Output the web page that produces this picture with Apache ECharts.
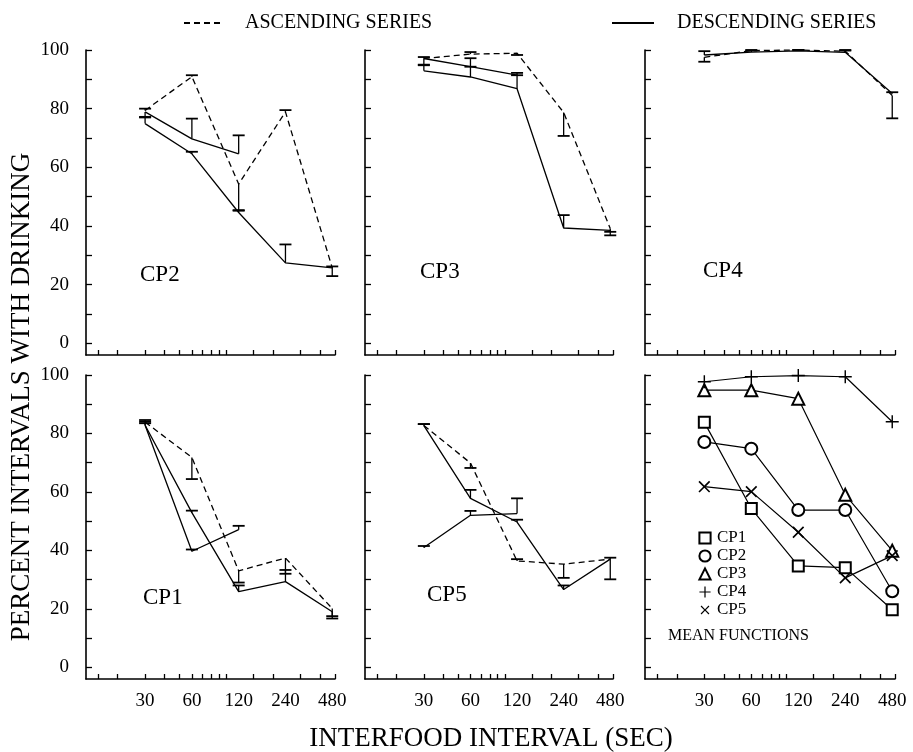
<!DOCTYPE html>
<html>
<head>
<meta charset="utf-8">
<script src="https://cdn.jsdelivr.net/npm/echarts@6/dist/echarts.min.js"></script>
<style>
  html, body { margin: 0; background: #fff; }
  #chart { width: 913px; height: 752px; }
</style>
</head>
<body>
<div id="chart"></div>
<script>
// interfood intervals (sec)
const secs = [30, 60, 120, 240, 480]
const secsShort = [30, 60, 120]
const tickSecs = [15, 20, 30, 40, 50, 60, 70, 80, 90, 100, 150, 200, 300, 400, 500]
const labelSecs = [30, 60, 120, 240, 480]
const yTicks = [0, 10, 20, 30, 40, 50, 60, 70, 80, 90, 100]
const yLabels = [0, 20, 40, 60, 80, 100]

// CP2
const cp2Asc = [79.4, 90.9, 54.3, 78.9, 25.7]
const cp2AscErr = [80.0, 91.4, 45.2, 79.5, 22.9]
const cp2Desc = [74.9, 64.6, 44.6, 27.4, 25.7]
const cp2DescErr = [77.0, 65.3, 45.4, 33.7, 26.2]
const cp2Rep = [78.9, 69.7, 64.6]
const cp2RepErr = [77.2, 76.6, 70.9]
// CP3
const cp3Asc = [97.1, 98.6, 98.9, 78.7, 39.1]
const cp3AscErr = [97.6, 99.3, 98.3, 70.7, 36.8]
const cp3Desc = [92.9, 90.8, 86.8, 39.3, 38.5]
const cp3DescErr = [95.0, 94.3, 91.4, 43.7, 38.0]
const cp3Rep = [97.1, 94.3, 91.4]
const cp3RepErr = [94.8, 97.2, 92.2]
// CP4
const cp4Asc = [97.5, 99.8, 100, 99.6, 84.5]
const cp4AscErr = [96.0, 100, 100, 100, 76.7]
const cp4Desc = [98.3, 99.3, 99.7, 99.2, 85.2]
const cp4DescErr = [99.6, 99.8, 100, 99.8, 85.6]
// CP1
const cp1Asc = [83.9, 71.8, 33.0, 37.4, 20.1]
const cp1AscErr = [84.6, 64.4, 29.0, 32.0, 16.7]
const cp1Desc = [82.8, 52.9, 25.9, 29.3, 19.0]
const cp1DescErr = [84.0, 53.6, 28.0, 33.3, 17.5]
const cp1Rep = [82.8, 39.7, 47.1]
const cp1RepErr = [83.5, 40.3, 48.4]
// CP5
const cp5Asc = [82.7, 69.9, 36.4, 35.3, 37.0]
const cp5AscErr = [83.2, 68.2, 37.0, 30.6, 30.1]
const cp5Desc = [82.7, 57.8, 49.7, 26.6, 37.0]
const cp5DescErr = [83.2, 60.7, 50.5, 28.0, 37.5]
const cp5Rep = [41.0, 52.0, 52.6]
const cp5RepErr = [41.5, 53.5, 57.8]
// mean functions
const mean1 = [83.8, 54.3, 34.7, 34.1, 19.7]
const mean2 = [77.1, 74.8, 53.8, 53.8, 26.0]
const mean3 = [94.8, 94.8, 91.9, 59.0, 39.9]
const mean4 = [97.7, 99.4, 99.8, 99.4, 84.0]
const mean5 = [61.8, 60.1, 46.2, 30.6, 38.2]

const SERIF = "'Liberation Serif', 'DejaVu Serif', serif"
const ASC = 'ASCENDING SERIES'
const DESC = 'DESCENDING SERIES'

let chart = echarts.init(document.getElementById('chart'))

// panel boxes: top row CP2 CP3 CP4, bottom row CP1 CP5 mean
const colLeft = [86, 365, 645]
const colWidth = [249, 248, 250]
const rowTop = [50, 375]
const rowHeight = [305, 304]

let grids = [], xAxes = [], yAxes = []
for (let r = 0; r < 2; r++) {
  for (let c = 0; c < 3; c++) {
    grids.push({left: colLeft[c], top: rowTop[r], width: colWidth[c], height: rowHeight[r]})
    let gi = grids.length - 1
    xAxes.push({
      gridIndex: gi, type: 'log', logBase: 10, min: 12.5, max: 500,
      axisLine: {onZero: false, lineStyle: {color: '#000', width: 1.6}},
      axisTick: {inside: true, length: 5, customValues: tickSecs, lineStyle: {color: '#000', width: 1.3}},
      axisLabel: {show: r == 1, customValues: labelSecs, margin: 13, color: '#000', fontFamily: SERIF, fontSize: 19},
      splitLine: {show: false}, minorTick: {show: false}
    })
    yAxes.push({
      gridIndex: gi, type: 'value', min: -4, max: 100,
      axisLine: {show: true, onZero: false, lineStyle: {color: '#000', width: 1.6}},
      axisTick: {inside: true, length: 6, customValues: yTicks, lineStyle: {color: '#000', width: 1.3}},
      axisLabel: {show: c == 0, customValues: yLabels, margin: 17, color: '#000', fontFamily: SERIF, fontSize: 19},
      splitLine: {show: false}
    })
  }
}

function pairs(xs, ys) {
  return ys.map((y, i) => [xs[i], y])
}

function lineSeries(name, gi, xs, ys, dashed) {
  return {
    name: name, type: 'line', xAxisIndex: gi, yAxisIndex: gi,
    data: pairs(xs, ys), symbol: 'none', clip: false, silent: true,
    lineStyle: {color: '#000', width: 1.3, type: dashed ? [6, 4] : 'solid'},
    itemStyle: {color: '#000'}
  }
}

// half error bar: from the mean to the end value, capped
function renderErr(params, api) {
  let p0 = api.coord([api.value(0), api.value(1)])
  let p1 = api.coord([api.value(0), api.value(2)])
  let w = 6
  return {
    type: 'group',
    children: [
      {type: 'line', shape: {x1: p0[0], y1: p0[1], x2: p1[0], y2: p1[1]}, style: {stroke: '#000', lineWidth: 1.3}},
      {type: 'line', shape: {x1: p1[0] - w, y1: p1[1], x2: p1[0] + w, y2: p1[1]}, style: {stroke: '#000', lineWidth: 1.8}}
    ]
  }
}

function errSeries(gi, xs, ys, es) {
  return {
    type: 'custom', xAxisIndex: gi, yAxisIndex: gi, silent: true, clip: false,
    renderItem: renderErr, encode: {x: 0, y: [1, 2]},
    data: ys.map((y, i) => [xs[i], y, es[i]])
  }
}

let panels = [
  {gi: 0, asc: cp2Asc, ascErr: cp2AscErr, desc: cp2Desc, descErr: cp2DescErr, rep: cp2Rep, repErr: cp2RepErr},
  {gi: 1, asc: cp3Asc, ascErr: cp3AscErr, desc: cp3Desc, descErr: cp3DescErr, rep: cp3Rep, repErr: cp3RepErr},
  {gi: 2, asc: cp4Asc, ascErr: cp4AscErr, desc: cp4Desc, descErr: cp4DescErr},
  {gi: 3, asc: cp1Asc, ascErr: cp1AscErr, desc: cp1Desc, descErr: cp1DescErr, rep: cp1Rep, repErr: cp1RepErr},
  {gi: 4, asc: cp5Asc, ascErr: cp5AscErr, desc: cp5Desc, descErr: cp5DescErr, rep: cp5Rep, repErr: cp5RepErr}
]

let series = []
panels.forEach(p => {
  series.push(lineSeries(ASC, p.gi, secs, p.asc, true))
  series.push(lineSeries(DESC, p.gi, secs, p.desc, false))
  series.push(errSeries(p.gi, secs, p.asc, p.ascErr))
  series.push(errSeries(p.gi, secs, p.desc, p.descErr))
  if (p.rep) {
    series.push(lineSeries(DESC, p.gi, secsShort, p.rep, false))
    series.push(errSeries(p.gi, secsShort, p.rep, p.repErr))
  }
})

const plusPath = 'path://M4.45,0H5.55V4.45H10V5.55H5.55V10H4.45V5.55H0V4.45H4.45Z'
let means = [
  {name: 'CP1', data: mean1, symbol: 'emptyRect', size: 11, rotate: 0, border: 1.3},
  {name: 'CP2', data: mean2, symbol: 'emptyCircle', size: 12, rotate: 0, border: 1.3},
  {name: 'CP3', data: mean3, symbol: 'emptyTriangle', size: 12, rotate: 0, border: 1.3},
  {name: 'CP4', data: mean4, symbol: plusPath, size: 13, rotate: 0, border: 0},
  {name: 'CP5', data: mean5, symbol: plusPath, size: 15, rotate: 45, border: 0}
]
means.forEach(m => {
  series.push({
    name: m.name, type: 'line', xAxisIndex: 5, yAxisIndex: 5, clip: false, silent: true,
    data: pairs(secs, m.data), symbol: m.symbol, symbolSize: m.size, symbolRotate: m.rotate,
    showAllSymbol: true,
    lineStyle: {color: '#000', width: 1.2},
    itemStyle: {color: '#000', borderColor: '#000', borderWidth: m.border}
  })
})

let option = {
  animation: false,
  backgroundColor: '#fff',
  grid: grids,
  xAxis: xAxes,
  yAxis: yAxes,
  legend: [
    {
      data: [ASC], left: 178, top: 8, itemWidth: 38, itemHeight: 12, selectedMode: false,
      itemStyle: {opacity: 0},
      textStyle: {fontFamily: SERIF, fontSize: 20, color: '#000', padding: [0, 0, 0, 18]}
    },
    {
      data: [DESC], left: 606, top: 8, itemWidth: 42, itemHeight: 12, selectedMode: false,
      itemStyle: {opacity: 0},
      textStyle: {fontFamily: SERIF, fontSize: 20, color: '#000', padding: [0, 0, 0, 18]}
    },
    {
      data: ['CP1', 'CP2', 'CP3', 'CP4', 'CP5'], orient: 'vertical', left: 692, top: 524,
      itemWidth: 14, itemHeight: 14, itemGap: 0, selectedMode: false,
      lineStyle: {opacity: 0},
      textStyle: {fontFamily: SERIF, fontSize: 17, lineHeight: 18, color: '#000'}
    }
  ],
  graphic: [
    {type: 'text', x: 140, y: 275, style: {text: 'CP2', font: '23px ' + SERIF, fill: '#000', textVerticalAlign: 'middle'}},
    {type: 'text', x: 420, y: 272, style: {text: 'CP3', font: '23px ' + SERIF, fill: '#000', textVerticalAlign: 'middle'}},
    {type: 'text', x: 703, y: 271, style: {text: 'CP4', font: '23px ' + SERIF, fill: '#000', textVerticalAlign: 'middle'}},
    {type: 'text', x: 143, y: 598, style: {text: 'CP1', font: '23px ' + SERIF, fill: '#000', textVerticalAlign: 'middle'}},
    {type: 'text', x: 427, y: 595, style: {text: 'CP5', font: '23px ' + SERIF, fill: '#000', textVerticalAlign: 'middle'}},
    {type: 'text', x: 668, y: 636, style: {text: 'MEAN FUNCTIONS', font: '16px ' + SERIF, fill: '#000', textVerticalAlign: 'middle'}},
    {type: 'text', x: 491, y: 739, style: {text: 'INTERFOOD INTERVAL (SEC)', font: '27px ' + SERIF, fill: '#000', textAlign: 'center', textVerticalAlign: 'middle'}},
    {type: 'text', x: 22, y: 397, rotation: Math.PI / 2, style: {text: 'PERCENT INTERVALS WITH DRINKING', font: '27px ' + SERIF, fill: '#000', textAlign: 'center', textVerticalAlign: 'middle'}}
  ],
  series: series
}
chart.setOption(option)
</script>
</body>
</html>
